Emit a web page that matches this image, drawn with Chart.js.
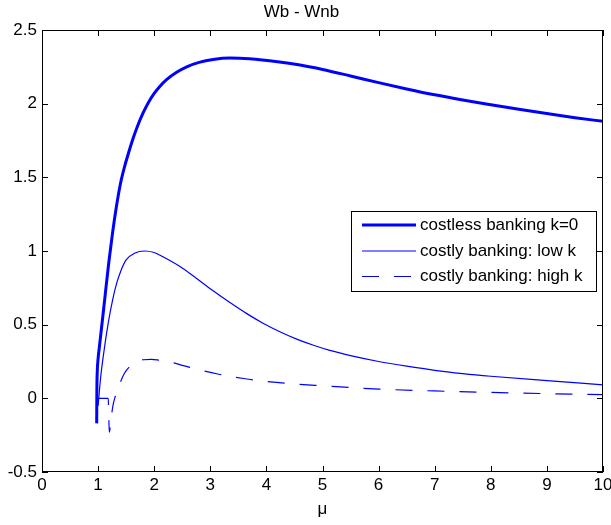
<!DOCTYPE html>
<html lang="en">
<head>
<meta charset="UTF-8">
<title>Wb - Wnb</title>
<script src="https://cdn.jsdelivr.net/npm/chart.js"></script>
<style>
  html, body { margin: 0; padding: 0; background: #fff; }
  #wrap { width: 611px; height: 525px; }
</style>
</head>
<body>
<div id="wrap"><canvas id="myChart" width="611" height="525"></canvas></div>
<script>
// welfare gain Wb - Wnb against mu, three banking cost cases
const seriesNames = ['costless banking k=0', 'costly banking: low k', 'costly banking: high k'];

const muCostless = [0.975, 0.978, 0.985, 1.0, 1.02, 1.05, 1.12, 1.19, 1.26, 1.33, 1.40, 1.47, 1.55, 1.62, 1.69, 1.8, 1.9, 2.0, 2.1, 2.22, 2.4, 2.58, 2.8, 3.05, 3.35, 3.7, 4.2, 4.6, 5.0, 5.5, 6.0, 6.5, 7.0, 7.5, 8.0, 8.5, 9.0, 9.5, 10.0];
const wCostless  = [-0.17, 0.05, 0.18, 0.27, 0.34, 0.44, 0.68, 0.92, 1.13, 1.31, 1.46, 1.57, 1.675, 1.76, 1.835, 1.935, 2.01, 2.07, 2.117, 2.163, 2.213, 2.25, 2.28, 2.30, 2.31, 2.305, 2.285, 2.262, 2.232, 2.188, 2.143, 2.10, 2.06, 2.025, 1.993, 1.962, 1.933, 1.905, 1.88];

const muLowK = [1.0, 1.045, 1.09, 1.18, 1.26, 1.33, 1.41, 1.5, 1.65, 1.83, 2.0, 2.16, 2.46, 2.75, 3.05, 3.35, 3.65, 3.94, 4.24, 4.54, 4.84, 5.13, 5.5, 6.0, 6.5, 7.0, 7.5, 8.0, 9.0, 10.0];
const wLowK  = [-0.05, 0.14, 0.28, 0.51, 0.67, 0.78, 0.87, 0.94, 0.985, 1.0, 0.99, 0.96, 0.895, 0.815, 0.73, 0.65, 0.575, 0.51, 0.452, 0.402, 0.36, 0.325, 0.29, 0.25, 0.218, 0.19, 0.168, 0.15, 0.12, 0.092];

const muHighK = [1.0, 1.18, 1.2, 1.23, 1.27, 1.35, 1.47, 1.65, 1.8, 1.95, 2.1, 2.24, 2.54, 2.84, 3.13, 3.62, 4.0, 4.5, 5.0, 6.0, 7.0, 8.0, 9.0, 10.0];
const wHighK  = [0, 0, -0.23, -0.14, -0.04, 0.06, 0.17, 0.24, 0.262, 0.265, 0.258, 0.25, 0.22, 0.19, 0.165, 0.133, 0.115, 0.097, 0.085, 0.063, 0.05, 0.04, 0.032, 0.025];

const xTicks = [0, 1, 2, 3, 4, 5, 6, 7, 8, 9, 10];
const xTickLabels = ['0', '1', '2', '3', '4', '5', '6', '7', '8', '9', '10'];
const yTicks = [-0.5, 0, 0.5, 1, 1.5, 2, 2.5];
const yTickLabels = ['-0.5', '0', '0.5', '1', '1.5', '2', '2.5'];

const FONT = '"Liberation Sans", Arial, Helvetica, sans-serif';
const FSIZE = 17;

function pts(xs, ys) {
    return xs.map(function (x, i) { return { x: x, y: ys[i] }; });
}

// black box round the plot with short inward ticks on all four sides
const frame = {
    id: 'frame',
    afterDatasetsDraw(chart) {
        const ctx = chart.ctx, a = chart.chartArea;
        const sx = chart.scales.x, sy = chart.scales.y;
        const tl = 6;
        ctx.save();
        ctx.strokeStyle = '#000';
        ctx.lineWidth = 1;
        ctx.beginPath();
        xTicks.forEach(function (v) {
            const px = Math.round(sx.getPixelForValue(v)) + 0.5;
            ctx.moveTo(px, a.bottom); ctx.lineTo(px, a.bottom - tl);
            ctx.moveTo(px, a.top); ctx.lineTo(px, a.top + tl);
        });
        yTicks.forEach(function (v) {
            const py = Math.round(sy.getPixelForValue(v)) + 0.5;
            ctx.moveTo(a.left, py); ctx.lineTo(a.left + tl, py);
            ctx.moveTo(a.right, py); ctx.lineTo(a.right - tl, py);
        });
        ctx.stroke();
        ctx.strokeRect(Math.round(a.left) + 0.5, Math.round(a.top) + 0.5,
            Math.round(a.right - a.left) - 1, Math.round(a.bottom - a.top) - 1);
        ctx.restore();
    }
};

// boxed legend sitting inside the plot, right of centre
const boxLegend = {
    id: 'boxLegend',
    afterDraw(chart) {
        const ctx = chart.ctx;
        const bx = 351, by = 211, bw = 245, bh = 80;
        const rows = [225, 251, 276.5];
        ctx.save();
        ctx.fillStyle = '#fff';
        ctx.fillRect(bx, by, bw, bh);
        ctx.strokeStyle = '#000';
        ctx.lineWidth = 1;
        ctx.strokeRect(bx + 0.5, by + 0.5, bw, bh);
        ctx.font = FSIZE + 'px ' + FONT;
        ctx.textBaseline = 'middle';
        chart.data.datasets.forEach(function (ds, i) {
            const yy = rows[i];
            ctx.strokeStyle = ds.borderColor;
            ctx.lineWidth = ds.borderWidth;
            ctx.setLineDash(ds.borderDash || []);
            ctx.beginPath();
            ctx.moveTo(362, yy);
            ctx.lineTo(416, yy);
            ctx.stroke();
            ctx.setLineDash([]);
            ctx.fillStyle = '#000';
            ctx.fillText(ds.label, 420, yy);
        });
        ctx.restore();
    }
};

const data = {
    datasets: [{
        label: seriesNames[0],
        data: pts(muCostless, wCostless),
        borderColor: '#0000ff',
        borderWidth: 3
    }, {
        label: seriesNames[1],
        data: pts(muLowK, wLowK),
        borderColor: '#0000ff',
        borderWidth: 1.2
    }, {
        label: seriesNames[2],
        data: pts(muHighK, wHighK),
        borderColor: '#0000ff',
        borderWidth: 1.2,
        borderDash: [17, 15]
    }]
};

const config = {
    type: 'line',
    data: data,
    options: {
        responsive: false,
        animation: false,
        events: [],
        layout: { padding: { left: 0, right: 8, top: 0, bottom: 0 } },
        elements: {
            point: { radius: 0 },
            line: { cubicInterpolationMode: 'monotone', fill: false }
        },
        plugins: {
            legend: { display: false },
            tooltip: { enabled: false },
            title: {
                display: true,
                text: 'Wb - Wnb',
                color: '#000',
                font: { family: FONT, size: FSIZE, weight: 'normal', lineHeight: 1.2 },
                padding: { top: 2, bottom: 7.6 }
            }
        },
        scales: {
            x: {
                type: 'linear',
                min: 0,
                max: 10,
                afterBuildTicks: function (s) { s.ticks = xTicks.map(function (v) { return { value: v }; }); },
                afterFit: function (s) { s.height = 53; s.paddingLeft = 0; s.paddingRight = 0; },
                grid: { display: false, drawTicks: false },
                border: { display: false },
                ticks: {
                    color: '#000',
                    font: { family: FONT, size: FSIZE },
                    padding: 3,
                    maxRotation: 0,
                    autoSkip: false,
                    callback: function (v, i) { return xTickLabels[i]; }
                },
                title: {
                    display: true,
                    text: 'μ',
                    color: '#000',
                    font: { family: FONT, size: FSIZE },
                    padding: { top: 0, bottom: 5 }
                }
            },
            y: {
                min: -0.5,
                max: 2.5,
                afterBuildTicks: function (s) { s.ticks = yTicks.map(function (v) { return { value: v }; }); },
                afterFit: function (s) { s.width = 42; },
                grid: { display: false, drawTicks: false },
                border: { display: false },
                ticks: {
                    color: '#000',
                    font: { family: FONT, size: FSIZE },
                    padding: 5,
                    autoSkip: false,
                    callback: function (v, i) { return yTickLabels[i]; }
                }
            }
        }
    },
    plugins: [frame, boxLegend]
};

const myChart = new Chart(document.getElementById('myChart'), config);
</script>
</body>
</html>
